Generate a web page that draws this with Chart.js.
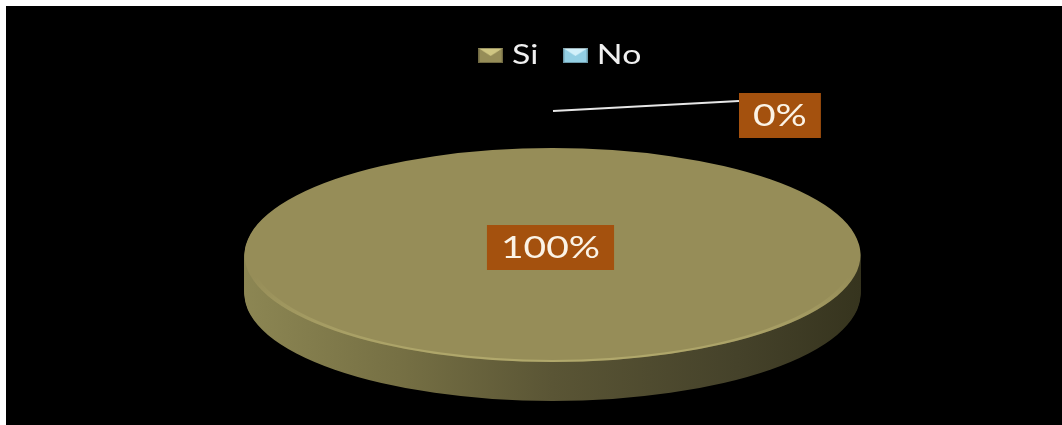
<!DOCTYPE html>
<html><head><meta charset="utf-8">
<script src="https://cdn.jsdelivr.net/npm/chart.js@4.4.1/dist/chart.umd.min.js"></script>
<style>
html,body{margin:0;padding:0;background:#fff;width:1062px;height:425px;overflow:hidden;}
#wrap{position:absolute;left:6px;top:6px;width:1056px;height:419px;background:#000;}
canvas{display:block;}
</style></head><body>
<div id="wrap"><canvas id="c" width="1056" height="419" style="width:1056px;height:419px"></canvas></div>
<script>
// ---- data ----
const categories = ['Si', 'No'];
const values = [100, 0];
const sliceColors = ['#968d58', '#93cfe4'];
const iconLight = ['#cfc683', '#d2f0fa'];

// ---- geometry / style ----
const S = 1.3; // horizontal stretch of the whole picture
const ELL = {cx: 546.5, cy: 249, rx: 308, ry: 107, depth: 39};

function makeIcon(base, light) {
  const c = document.createElement('canvas');
  c.width = 19; c.height = 15;
  const g = c.getContext('2d');
  g.fillStyle = base; g.fillRect(0, 0, 19, 15);
  g.fillStyle = light;
  g.beginPath(); g.moveTo(0, 0); g.lineTo(19, 0); g.lineTo(9.5, 8); g.closePath(); g.fill();
  g.strokeStyle = 'rgba(0,0,0,0.25)'; g.lineWidth = 1; g.strokeRect(0.5, 0.5, 18, 14);
  return c;
}
const icons = sliceColors.map((c, i) => makeIcon(c, iconLight[i]));

function withOpts(el, ctx, over) {
  const saved = el.options;
  el.options = Object.assign(Object.create(saved), over);
  el.draw(ctx);
  el.options = saved;
}
function pieTransform(chart, el, dy) {
  const ctx = chart.ctx, dpr = chart.currentDevicePixelRatio || 1;
  ctx.setTransform(dpr, 0, 0, dpr, 0, 0);
  ctx.translate(ELL.cx, ELL.cy + dy);
  ctx.scale(ELL.rx / el.outerRadius, ELL.ry / el.outerRadius);
  ctx.translate(-el.x, -el.y);
}

const stretchPlugin = {
  id: 'stretch',
  beforeDraw(chart) { chart.ctx.save(); chart.ctx.scale(S, 1); },
  afterDraw(chart) { chart.ctx.restore(); }
};

const pie3d = {
  id: 'pie3d',
  beforeDatasetsDraw(chart) {
    const ctx = chart.ctx;
    const meta = chart.getDatasetMeta(0);
    const el0 = meta.data[0];
    const r = el0.outerRadius, x = el0.x;
    const side = ctx.createLinearGradient(x - r, 0, x + r, 0);
    side.addColorStop(0, '#8c8653');
    side.addColorStop(0.25, '#767044');
    side.addColorStop(0.5, '#5a5535');
    side.addColorStop(0.8, '#45422a');
    side.addColorStop(1, '#36341e');
    for (let d = ELL.depth; d >= 1; d--) {
      ctx.save();
      pieTransform(chart, el0, d);
      meta.data.forEach(el => withOpts(el, ctx, {backgroundColor: side, borderWidth: 0}));
      ctx.restore();
    }
    ctx.save();
    pieTransform(chart, el0, 0);
  },
  afterDatasetsDraw(chart) {
    const ctx = chart.ctx;
    const meta = chart.getDatasetMeta(0);
    const el0 = meta.data[0];
    const r = el0.outerRadius, y = el0.y;
    const rim = ctx.createLinearGradient(0, y - r, 0, y + r);
    rim.addColorStop(0, 'rgba(200,192,125,0)');
    rim.addColorStop(0.6, 'rgba(200,192,125,0)');
    rim.addColorStop(1, 'rgba(200,192,125,0.55)');
    withOpts(el0, ctx, {backgroundColor: 'rgba(0,0,0,0)', borderWidth: 3, borderColor: rim, borderAlign: 'inner'});
    ctx.restore();

    // data labels
    const dpr = chart.currentDevicePixelRatio || 1;
    const total = values.reduce((a, b) => a + b, 0);
    ctx.save();
    ctx.font = '30px Lato';
    ctx.textAlign = 'center';
    ctx.textBaseline = 'middle';
    meta.data.forEach((el, i) => {
      const txt = Math.round(values[i] / total * 100) + '%';
      const tw = ctx.measureText(txt).width * S;
      const bw = tw + 28, bh = 45;
      const mid = (el.startAngle + el.endAngle) / 2;
      let bx, by;
      if (el.circumference >= Math.PI * 2 - 1e-6) {
        bx = ELL.cx - 2 - bw / 2; by = ELL.cy - 7.5 - bh / 2;
      } else {
        const px = ELL.cx + ELL.rx * Math.cos(mid);
        const py = ELL.cy + ELL.ry * Math.sin(mid);
        const sx = px + 0.5, sy = py - 37;
        const ex = sx + 186, ey = sy - 10;
        ctx.setTransform(dpr, 0, 0, dpr, 0, 0);
        ctx.strokeStyle = '#e6e6e6';
        ctx.lineWidth = 2;
        ctx.beginPath(); ctx.moveTo(sx, sy); ctx.lineTo(ex, ey); ctx.stroke();
        bx = ex; by = ey - 8;
      }
      ctx.setTransform(dpr * S, 0, 0, dpr, 0, 0);
      ctx.fillStyle = '#a4510e';
      ctx.fillRect(bx / S, by, bw / S, bh);
      ctx.fillStyle = '#fbf3e6';
      ctx.fillText(txt, (bx + bw / 2) / S, by + bh / 2 + 1);
    });
    ctx.restore();
  }
};

new Chart(document.getElementById('c'), {
  type: 'pie',
  data: {
    labels: categories,
    datasets: [{
      data: values,
      backgroundColor: sliceColors,
      borderWidth: 0,
      clip: false
    }]
  },
  options: {
    responsive: false,
    animation: false,
    events: [],
    layout: {padding: {left: 45, right: 243, top: 11.5, bottom: 10}},
    plugins: {
      tooltip: {enabled: false},
      legend: {
        position: 'top',
        labels: {
          usePointStyle: true,
          pointStyleWidth: 7,
          padding: 25,
          color: '#f0f0f0',
          font: {family: 'Lato', size: 26},
          generateLabels(chart) {
            return categories.map((c, i) => ({
              text: c, fillStyle: sliceColors[i], strokeStyle: sliceColors[i],
              lineWidth: 0, pointStyle: icons[i], hidden: false, index: i, fontColor: '#f0f0f0'
            }));
          }
        }
      }
    }
  },
  plugins: [stretchPlugin, pie3d]
});
</script>
</body></html>
